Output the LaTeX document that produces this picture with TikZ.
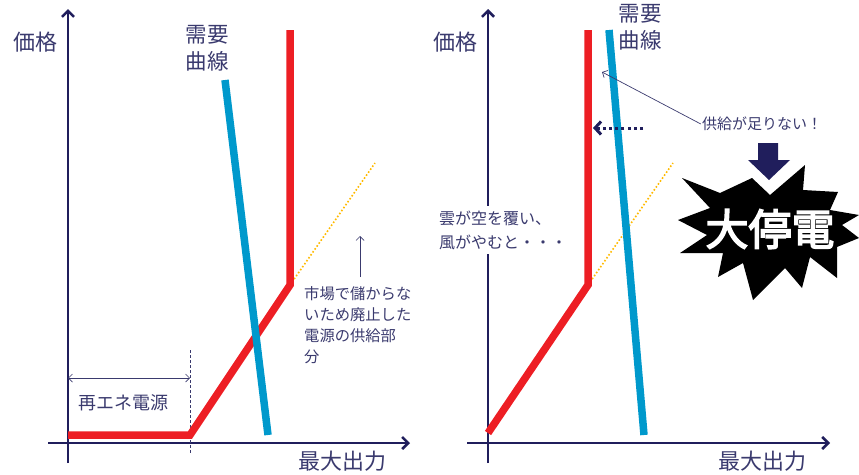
\documentclass[tikz,border=0pt]{standalone}
\usepackage{fontspec}
\setmainfont{Noto Sans CJK JP}
\newfontfamily\jpheavy[FakeBold=3.5]{Noto Sans CJK JP}
\usetikzlibrary{arrows.meta}

\definecolor{axisnavy}{RGB}{32,30,92}
\definecolor{textnavy}{RGB}{58,58,110}
\definecolor{supplyred}{RGB}{237,30,36}
\definecolor{demandblue}{RGB}{0,153,204}
\definecolor{dotorange}{RGB}{255,186,0}

\tikzset{
  axis/.style={axisnavy,line width=2.8pt,
    -{Straight Barb[length=6pt,width=12pt,line width=2.6pt]}},
  supply/.style={supplyred,line width=7.5pt},
  demand/.style={demandblue,line width=7.5pt},
  hint/.style={dotorange,line width=1.6pt,dotted},
  note/.style={textnavy,line width=0.7pt,-{Straight Barb[length=4pt,width=8pt]}},
  span/.style={textnavy,line width=0.7pt,
    {Straight Barb[length=4pt,width=8pt]}-{Straight Barb[length=4pt,width=8pt]}},
  txt/.style={textnavy,inner sep=1pt,align=left},
}

\begin{document}
\begin{tikzpicture}[x=1pt,y=-1pt]
  \useasboundingbox (0,0) rectangle (859,474);

  % left: before
  \coordinate (ya) at (68,463);
  \coordinate (yb) at (68,9);
  \coordinate (xa) at (48,443);
  \coordinate (xb) at (410,443);
  \coordinate (s0) at (68,435);
  \coordinate (s1) at (190,435);
  \coordinate (s2) at (290,285);
  \coordinate (s3) at (290,30);
  \coordinate (d0) at (225,80);
  \coordinate (d1) at (268,435);
  \coordinate (h1) at (375,163);

  \draw[axis] (ya) -- (yb);
  \draw[axis] (xa) -- (xb);
  \draw[textnavy,line width=0.6pt,dash pattern=on 3pt off 2pt] (190,350) -- (190,453);
  \draw[span] (68,378) -- (190,378);
  \draw[hint] (s2) -- (h1);
  \draw[supply] (s0) -- (s1) -- (s2) -- (s3);
  \draw[demand] (d0) -- (d1);
  \draw[note] (360,277) -- (360,236);

  \node[txt,font=\fontsize{22}{26}\selectfont] (price) at (35,42) {価格};
  \node[txt,font=\fontsize{21.5}{27}\selectfont,align=center] (demand) at (207,48) {需要\\曲線};
  \node[txt,font=\fontsize{22}{26}\selectfont] (output) at (342,461) {最大出力};
  \node[txt,font=\fontsize{18}{22}\selectfont] (renew) at (123,403) {再エネ電源};
  \node[txt,font=\fontsize{15.3}{21}\selectfont,anchor=north west] (closed) at (303,285)
    {市場で儲からな\\いため廃止した\\電源の供給部\\分};

  % right: after
  \coordinate (Ya) at (488,463);
  \coordinate (Yb) at (488,9);
  \coordinate (Xa) at (467,443);
  \coordinate (Xb) at (830,443);
  \coordinate (S0) at (488,433);
  \coordinate (S1) at (588,285);
  \coordinate (S2) at (588,30);
  \coordinate (D0) at (609,30);
  \coordinate (D1) at (644,435);
  \coordinate (H1) at (673,163);

  \draw[axis] (Ya) -- (Yb);
  \draw[axis] (Xa) -- (Xb);
  \draw[hint] (S1) -- (H1);
  \draw[supply] (S0) -- (S1) -- (S2);
  \draw[demand] (D0) -- (D1);
  \draw[axisnavy,line width=3pt,dash pattern=on 3pt off 3.2pt,
    -{Straight Barb[length=6pt,width=13pt,line width=3pt]}] (643,128) -- (593,128);

  \node[txt,font=\fontsize{22}{26}\selectfont] (Price) at (455,42) {価格};
  \node[txt,font=\fontsize{21.5}{27}\selectfont,align=center] (Demand) at (640,27) {需要\\曲線};
  \node[txt,font=\fontsize{22}{26}\selectfont] (Output) at (762,461) {最大出力};
  \node[txt,font=\fontsize{16}{24}\selectfont,fill=white,inner ysep=5pt,anchor=west] (cloud) at (438,230)
    {雲が空を覆い、\\風がやむと・・・};
  \node[txt,font=\fontsize{15}{20}\selectfont] (short) at (762,124) {供給が足りない！};
  \draw[note] (short.west) -- (602,72);

  \fill[axisnavy] (758,143) -- (778,143) -- (778,160) -- (790,160) -- (769,180)
    -- (748,160) -- (758,160) -- cycle;
  \fill[black] (682,178) -- (720,193) -- (752,178) -- (770,195) -- (805,165)
    -- (803,190) -- (838,192) -- (830,210) -- (859,215) -- (842,225)
    -- (859,238) -- (837,247) -- (837,278) -- (810,257) -- (802,288)
    -- (785,268) -- (753,300) -- (743,263) -- (718,277) -- (723,253)
    -- (680,253) -- (707,235) -- (678,220) -- (710,208) -- cycle;
  \node[white,inner sep=0pt,font=\jpheavy\fontsize{43}{43}\selectfont] (blackout) at (770,229) {大停電};
\end{tikzpicture}
\end{document}
